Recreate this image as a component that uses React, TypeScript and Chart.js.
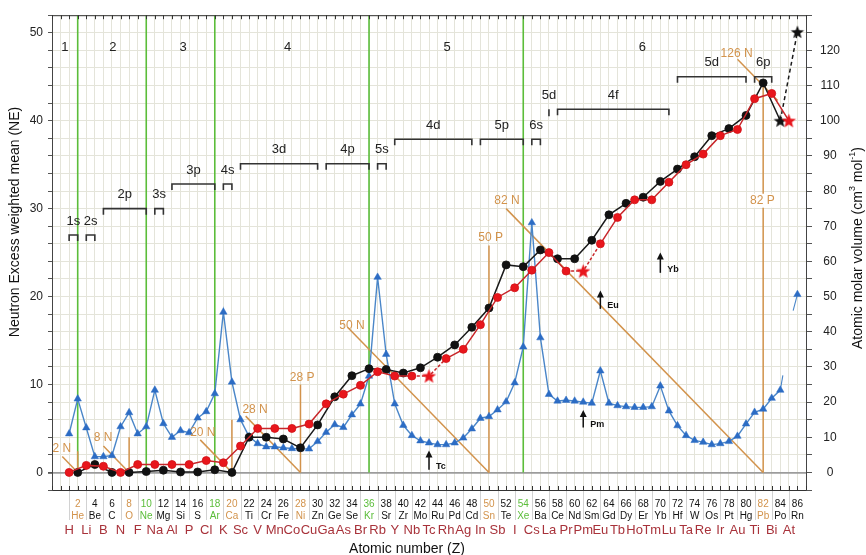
import React, { useEffect, useRef } from 'react';
import { Chart, registerables } from 'chart.js';
Chart.register(...registerables);

const FONT = '"Liberation Sans", Arial, Helvetica, sans-serif';
const GRID = '#e4e4da';
const ORANGE = '#d2934c';
const GREEN = '#5bbd3a';
const ODD_RED = '#a8323a';

// ---- series: NE of even-Z elements (black) ----
const blackZ = [2,4,6,8,10,12,14,16,18,20,22,24,26,28,30,32,34,36,38,40,42,44,46,48,50,52,54,56,58,60,62,64,66,68,70,72,74,76,78,80,82,84,86];
const blackNE = [0,0.9,0,0,0.1,0.25,0.05,0.05,0.3,0,
  4.0,4.0,3.8,2.8,5.4,8.6,11.0,11.8,11.7,11.3,
  11.9,13.1,14.5,16.5,18.7,23.6,23.4,25.3,24.3,24.3,
  26.4,29.3,30.6,31.3,33.1,34.5,35.9,38.3,39.1,40.6,
  44.3,40.0,50.1];
const blackStarZ = [84, 86];
const blackDashFromZ = [84];

// ---- series: NE of odd-Z elements (red) ----
const redZ = [1,3,5,7,9,11,13,15,17,19,21,23,25,27,29,31,33,35,37,39,41,43,45,47,49,51,53,55,57,59,61,63,65,67,69,71,73,75,77,79,81,83,85];
const redNE = [0,0.8,0.7,0,0.9,0.9,0.9,0.9,1.35,1.1,
  3.0,5.0,5.0,5.0,5.5,7.8,8.9,9.9,11.45,10.96,
  10.96,10.96,12.95,14.0,16.8,19.9,21.0,23.0,25.0,22.9,
  22.9,26.0,29.0,31.0,31.0,33.0,35.0,36.2,38.3,39.0,
  42.5,43.1,40.0];
const redStarZ = [43, 61, 85];
const redDashAroundZ = [43, 61];

// ---- series: atomic molar volume (blue, right axis) ----
const blueZ = Array.from({ length: 86 }, (_, i) => i + 1);
const blueV = [11.0,20.9,12.7,4.5,4.5,4.8,13.0,17.0,11.0,13.0,
  23.4,13.9,10.0,11.9,11.3,15.5,17.3,22.4,45.6,25.7,
  15.0,10.2,8.2,7.3,7.3,7.0,6.8,6.7,6.7,8.8,
  11.4,13.6,12.8,16.4,19.5,27.4,55.5,33.6,19.5,13.4,
  10.5,9.0,8.4,7.9,7.9,8.4,9.8,12.4,15.4,15.9,
  17.8,20.1,25.5,35.7,71.0,38.3,22.2,20.3,20.5,20.3,
  20.0,19.7,28.9,19.7,19.0,18.7,18.5,18.5,18.7,24.6,
  17.5,13.3,10.5,9.1,8.6,7.9,8.2,8.8,10.3,13.8,
  17.1,18.0,21.1,23.4,null,50.6];
const blueStubAZ = [84, 84.3];
const blueStubAV = [23.4, 27.6];
const blueStubBZ = [85.5, 86];
const blueStubBV = [46, 50.6];

// ---- x-axis labels ----
const evenSymbols = ['He','Be','C','O','Ne','Mg','Si','S','Ar','Ca','Ti','Cr','Fe','Ni','Zn','Ge','Se','Kr','Sr','Zr','Mo','Ru','Pd','Cd','Sn','Te','Xe','Ba','Ce','Nd','Sm','Gd','Dy','Er','Yb','Hf','W','Os','Pt','Hg','Pb','Po','Rn'];
const oddSymbols = ['H','Li','B','N','F','Na','Al','P','Cl','K','Sc','V','Mn','Co','Cu','Ga','As','Br','Rb','Y','Nb','Tc','Rh','Ag','In','Sb','I','Cs','La','Pr','Pm','Eu','Tb','Ho','Tm','Lu','Ta','Re','Ir','Au','Ti','Bi','At'];
const magicZ = [2, 8, 20, 28, 50, 82];
const nobleZ = [10, 18, 36, 54];
const greenLineZ = [2, 10, 18, 36, 54];

// ---- magic-number guide lines ----
const magicN = [2, 8, 20, 28, 50, 82, 126];
const magicNStartZ = [0.2, 5, 16.3, 21.6, 33.5, 52, 79];
const magicNEndZ = [2, 8, 20, 28, 50, 82, 83.7];
const magicPZ = [2, 8, 20, 28, 50, 82];
const magicPTopNE = [2.4, 4, 6, 10, 25.8, 44.5];
const magicLabels = ['2 N','8 N','20 N','28 N','28 P','50 N','50 P','82 N','82 P','126 N'];
const magicLabelZ = [0.16, 4.95, 16.6, 22.7, 28.2, 34.0, 50.2, 52.1, 81.9, 78.9];
const magicLabelNE = [2.65, 3.9, 4.5, 7.1, 10.8, 16.7, 26.7, 30.9, 30.9, 47.6];

// ---- periods and subshells ----
const periodLabels = ['1','2','3','4','5','6'];
const periodZ = [0.5, 6.1, 14.3, 26.5, 45.1, 67.9];
const periodNE = 48.3;
const shellLabels = ['1s','2s','2p','3s','3p','4s','3d','4p','5s','4d','5p','6s','5d','4f','5d','6p'];
const shellZ0 = [1,3,5,11,13,19,21,31,37,39,49,55,57,58,72,81];
const shellZ1 = [2,4,10,12,18,20,30,36,38,48,54,56,57,71,80,83];
const shellNE = [27,27,30,30,32.8,32.8,35.1,35.1,35.1,37.9,37.9,37.9,41.3,41.3,45,45];

// ---- anomaly arrows ----
const arrowLabels = ['Tc','Pm','Eu','Yb'];
const arrowZ = [43, 61, 63, 70];
const arrowBaseNE = [0.3, 5.1, 18.6, 22.7];
const arrowTipNE = [2.5, 7.1, 20.7, 25.0];

function makeStar(color: string, R: number, r: number) {
  const c = document.createElement('canvas');
  const s = Math.ceil(R * 2 + 2);
  c.width = s; c.height = s;
  const g = c.getContext('2d')!;
  g.beginPath();
  for (let i = 0; i < 10; i++) {
    const rad = i % 2 === 0 ? R : r;
    const a = -Math.PI / 2 + (i * Math.PI) / 5;
    const X = s / 2 + rad * Math.cos(a);
    const Y = s / 2 + 0.6 + rad * Math.sin(a);
    if (i === 0) g.moveTo(X, Y); else g.lineTo(X, Y);
  }
  g.closePath();
  g.fillStyle = color;
  g.fill();
  return c;
}

const overlay = {
  id: 'overlay',
  beforeDatasetsDraw(chart: any) {
    const { ctx, chartArea: a, scales } = chart;
    const px = (v: number) => scales.x.getPixelForValue(v);
    const py = (v: number) => scales.y.getPixelForValue(v);
    const line = (x1: number, y1: number, x2: number, y2: number) => {
      ctx.beginPath(); ctx.moveTo(x1, y1); ctx.lineTo(x2, y2); ctx.stroke();
    };
    ctx.save();
    ctx.beginPath(); ctx.rect(a.left, a.top, a.right - a.left, a.bottom - a.top); ctx.clip();
    ctx.strokeStyle = GREEN; ctx.lineWidth = 1.6;
    greenLineZ.forEach((z) => line(px(z), py(0), px(z), a.top));
    ctx.strokeStyle = ORANGE; ctx.lineWidth = 1.5;
    magicN.forEach((n, i) => {
      const z0 = magicNStartZ[i], z1 = magicNEndZ[i];
      line(px(z0), py(n - z0), px(z1), py(n - z1));
    });
    magicPZ.forEach((z, i) => line(px(z), py(0), px(z), py(magicPTopNE[i])));
    ctx.restore();
  },
  afterDatasetsDraw(chart: any) {
    const { ctx, chartArea: a, scales } = chart;
    const px = (v: number) => scales.x.getPixelForValue(v);
    const py = (v: number) => scales.y.getPixelForValue(v);
    const line = (x1: number, y1: number, x2: number, y2: number) => {
      ctx.beginPath(); ctx.moveTo(x1, y1); ctx.lineTo(x2, y2); ctx.stroke();
    };
    ctx.save();
    ctx.textAlign = 'center';
    ctx.textBaseline = 'middle';

    // magic labels
    ctx.font = '12px ' + FONT;
    magicLabels.forEach((t, i) => {
      const X = px(magicLabelZ[i]), Y = py(magicLabelNE[i]);
      if (t === '82 P') {
        const w = ctx.measureText(t).width;
        ctx.fillStyle = '#ffffff';
        ctx.fillRect(X - w / 2 - 2, Y - 7, w + 4, 14);
      }
      ctx.fillStyle = ORANGE;
      ctx.fillText(t, X, Y);
    });

    // periods
    ctx.fillStyle = '#222';
    ctx.font = '13px ' + FONT;
    periodLabels.forEach((t, i) => ctx.fillText(t, px(periodZ[i]), py(periodNE)));

    // subshell brackets
    ctx.strokeStyle = '#333'; ctx.lineWidth = 1.6;
    shellLabels.forEach((t, i) => {
      const x0 = px(shellZ0[i]), x1 = px(shellZ1[i]), Y = py(shellNE[i]);
      if (shellZ0[i] === shellZ1[i]) {
        line(x0, Y, x0, Y + 7);
      } else {
        ctx.beginPath();
        ctx.moveTo(x0, Y + 6); ctx.lineTo(x0, Y); ctx.lineTo(x1, Y); ctx.lineTo(x1, Y + 6);
        ctx.stroke();
      }
      ctx.fillText(t, (x0 + x1) / 2, Y - 14);
    });

    // arrows
    ctx.fillStyle = '#111'; ctx.strokeStyle = '#111'; ctx.lineWidth = 1.5;
    arrowZ.forEach((z, i) => {
      const X = px(z), yb = py(arrowBaseNE[i]), yt = py(arrowTipNE[i]);
      line(X, yb, X, yt + 5);
      ctx.beginPath(); ctx.moveTo(X, yt); ctx.lineTo(X - 3.5, yt + 7); ctx.lineTo(X + 3.5, yt + 7); ctx.closePath(); ctx.fill();
      ctx.font = 'bold 9px ' + FONT;
      ctx.textAlign = 'left';
      ctx.fillText(arrowLabels[i], X + 7, yb - 3);
      ctx.textAlign = 'center';
    });

    // frame top + ticks
    ctx.strokeStyle = '#333'; ctx.lineWidth = 1;
    line(a.left, a.top + 0.5, a.right, a.top + 0.5);
    for (let z = -1; z <= 87; z++) {
      const X = Math.round(px(z)) + 0.5;
      line(X, a.top, X, a.top + 4);
      line(X, a.bottom, X, a.bottom - 4);
    }
    // separators below axis at odd Z
    ctx.strokeStyle = '#d2d2d2'; ctx.lineWidth = 1;
    for (let i = 0; i < oddSymbols.length; i++) {
      const X = Math.round(px(2 * i + 1)) + 0.5;
      line(X, a.bottom + 1, X, a.bottom + 30);
    }
    // x labels
    evenSymbols.forEach((s, i) => {
      const z = 2 * (i + 1);
      const col = magicZ.includes(z) ? ORANGE : nobleZ.includes(z) ? GREEN : '#111';
      ctx.fillStyle = col;
      ctx.font = '10px ' + FONT;
      ctx.fillText(String(z), px(z), a.bottom + 14);
      ctx.fillText(s, px(z), a.bottom + 26);
    });
    ctx.fillStyle = ODD_RED;
    ctx.font = '13px ' + FONT;
    oddSymbols.forEach((s, i) => ctx.fillText(s, px(2 * i + 1), a.bottom + 40));

    // axis titles
    ctx.fillStyle = '#111';
    ctx.font = '14px ' + FONT;
    ctx.fillText('Atomic number (Z)', 407, 549);
    ctx.save();
    ctx.translate(15, 222); ctx.rotate(-Math.PI / 2);
    ctx.fillText('Neutron Excess weighted mean (NE)', 0, 0);
    ctx.restore();
    ctx.save();
    ctx.translate(858, 248); ctx.rotate(-Math.PI / 2);
    const parts: [string, number, number][] = [['Atomic molar volume (cm', 14, 0], ['3', 9, -5], [' mol', 14, 0], ['-1', 9, -5], [')', 14, 0]];
    let total = 0;
    parts.forEach(([t, s]) => { ctx.font = s + 'px ' + FONT; total += ctx.measureText(t).width; });
    let cx = -total / 2;
    ctx.textAlign = 'left';
    parts.forEach(([t, s, dy]) => {
      ctx.font = s + 'px ' + FONT;
      ctx.fillText(t, cx, dy);
      cx += ctx.measureText(t).width;
    });
    ctx.restore();
    ctx.restore();
  },
};

export default function App() {
  const ref = useRef<HTMLCanvasElement>(null);
  useEffect(() => {
    document.body.style.margin = '0';
    const canvas = ref.current!;
    const redStar = makeStar('#e8161c', 7.5, 3.2);
    const blackStar = makeStar('#111111', 7, 3);
    const blackData = blackZ.map((z, i) => ({ x: z, y: blackNE[i] }));
    const redData = redZ.map((z, i) => ({ x: z, y: redNE[i] }));
    const blueData = blueZ.map((z, i) => ({ x: z, y: blueV[i] }));
    const stubA = blueStubAZ.map((z, i) => ({ x: z, y: blueStubAV[i] }));
    const stubB = blueStubBZ.map((z, i) => ({ x: z, y: blueStubBV[i] }));

    const chart = new Chart(canvas, {
      type: 'line',
      data: {
        datasets: [
          {
            label: 'odd',
            data: redData,
            yAxisID: 'y',
            borderColor: '#c8262a',
            backgroundColor: '#e8161c',
            pointBorderColor: '#d21216',
            borderWidth: 1.5,
            pointRadius: 4,
            pointBorderWidth: 0.8,
            pointStyle: (c: any) => (c.raw && redStarZ.includes(c.raw.x) ? redStar : 'circle'),
            segment: {
              borderDash: (c: any) =>
                redDashAroundZ.includes(c.p0.parsed.x) || redDashAroundZ.includes(c.p1.parsed.x) ? [3, 2] : undefined,
            },
          } as any,
          {
            label: 'even',
            data: blackData,
            yAxisID: 'y',
            borderColor: '#1a1a1a',
            backgroundColor: '#111',
            pointBorderColor: '#111',
            borderWidth: 1.5,
            pointRadius: 4,
            pointBorderWidth: 0.8,
            pointStyle: (c: any) => (c.raw && blackStarZ.includes(c.raw.x) ? blackStar : 'circle'),
            segment: {
              borderDash: (c: any) => (blackDashFromZ.includes(c.p0.parsed.x) ? [4, 3] : undefined),
            },
          } as any,
          {
            label: 'volume',
            data: blueData,
            yAxisID: 'y1',
            borderColor: '#4a86c8',
            backgroundColor: '#2c6cc4',
            pointBorderColor: '#2c6cc4',
            borderWidth: 1.4,
            pointStyle: 'triangle',
            pointRadius: 4.3,
            pointBorderWidth: 0.5,
          },
          { label: 'stubA', data: stubA, yAxisID: 'y1', borderColor: '#4a86c8', borderWidth: 1.1, pointRadius: 0 },
          { label: 'stubB', data: stubB, yAxisID: 'y1', borderColor: '#4a86c8', borderWidth: 1.1, pointRadius: 0 },
        ],
      },
      options: {
        animation: false,
        responsive: false,
        devicePixelRatio: 1,
        layout: { padding: { top: 14, bottom: 65, left: 0, right: 0 } },
        plugins: { legend: { display: false }, tooltip: { enabled: false } },
        scales: {
          x: {
            type: 'linear',
            min: -1,
            max: 87,
            ticks: { display: false, stepSize: 1, maxTicksLimit: 200, autoSkip: false },
            grid: { color: GRID, drawTicks: false, lineWidth: 1 },
            border: { display: true, color: '#333', width: 1 },
            afterFit: (s: any) => { s.height = 0; },
          },
          y: {
            position: 'left',
            min: -2,
            max: 52,
            ticks: {
              stepSize: 2,
              maxTicksLimit: 100,
              autoSkip: false,
              callback: (v: any) => (Number(v) % 10 === 0 ? String(v) : ''),
              font: { family: FONT, size: 12 },
              color: '#222',
              padding: 5,
            },
            grid: {
              color: (c: any) => (c.tick && c.tick.value === 0 ? '#9c9c9c' : GRID),
              lineWidth: (c: any) => (c.tick && c.tick.value === 0 ? 1.8 : 1),
              tickLength: 4,
              tickColor: '#555',
            },
            border: { display: true, color: '#444', width: 1 },
            afterFit: (s: any) => { s.width = 52; },
          },
          y1: {
            position: 'right',
            min: -5,
            max: 130,
            ticks: {
              stepSize: 5,
              maxTicksLimit: 100,
              autoSkip: false,
              crossAlign: 'center',
              callback: (v: any) => {
                const n = Number(v);
                return n % 10 === 0 && n >= 0 && n <= 120 ? String(n) : '';
              },
              font: { family: FONT, size: 12 },
              color: '#222',
              padding: 8,
            },
            grid: { drawOnChartArea: false, tickLength: 6, tickColor: '#555' },
            border: { display: true, color: '#444', width: 1 },
            afterFit: (s: any) => { s.width = 60; },
          },
        },
      } as any,
      plugins: [overlay],
    });
    return () => chart.destroy();
  }, []);
  return (
    <div style={{ width: 866, height: 555 }}>
      <canvas ref={ref} width={866} height={555} style={{ display: 'block' }} />
    </div>
  );
}
